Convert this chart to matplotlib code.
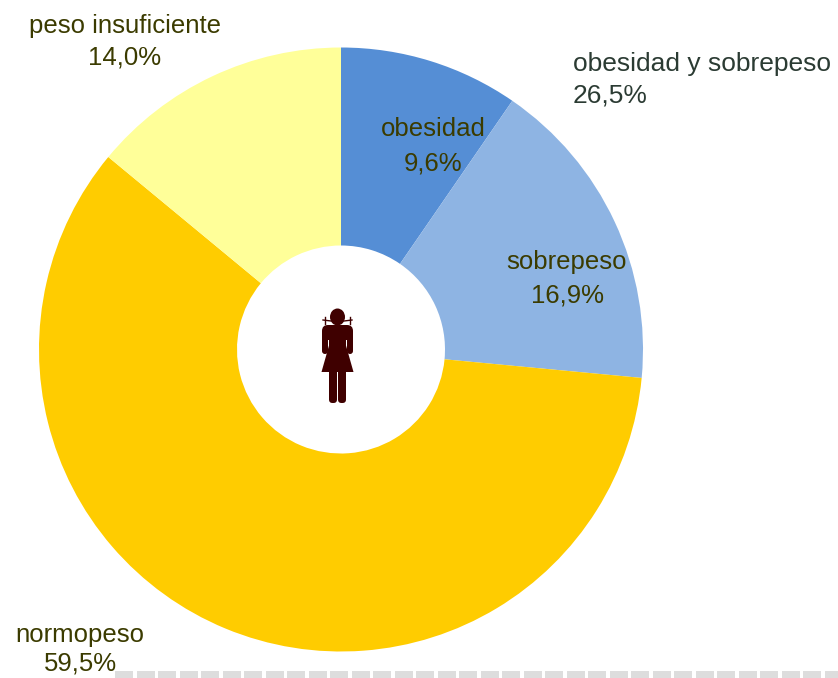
"""Donut chart: peso status of girls, with pictogram in the hole."""
import matplotlib
matplotlib.use("Agg")
import matplotlib.pyplot as plt
import numpy as np
from matplotlib.patches import Ellipse, FancyBboxPatch, Polygon, Rectangle

categories = ["obesidad", "sobrepeso", "normopeso", "peso insuficiente"]
values = [9.6, 16.9, 59.5, 14.0]
value_labels = ["9,6%", "16,9%", "59,5%", "14,0%"]
group_label = "obesidad y sobrepeso"
group_value = "26,5%"

colors = ["#558ED5", "#8EB4E3", "#FFCC00", "#FFFF99"]
text_color = "#3B3B00"
group_color = "#2B3B33"
icon_color = "#3F0000"

W, H = 838, 678
plt.rcParams["font.family"] = ["Liberation Sans", "DejaVu Sans"]

fig = plt.figure(figsize=(W / 100, H / 100), dpi=100, facecolor="white")
ax = fig.add_axes([0, 0, 1, 1])

cx, cy = 341, H - 349.5
R = 302
ax.pie(values, colors=colors, startangle=90, counterclock=False,
       center=(cx, cy), radius=R, frame=True,
       wedgeprops={"width": R - 104, "linewidth": 0})
ax.set_xlim(0, W)
ax.set_ylim(0, H)
ax.set_aspect("equal")
ax.axis("off")


def label(x, y1, y2, name, val):
    # x and the two line centres are picture pixels measured from the top
    ax.text(x, H - y1, name, color=text_color, fontsize=18.5, ha="center", va="center")
    ax.text(x, H - y2, val, color=text_color, fontsize=18.5, ha="center", va="center")


label(433, 129, 163, categories[0], value_labels[0])
label(567, 262, 295, categories[1], value_labels[1])
label(80, 635, 664, categories[2], value_labels[2])
label(125, 26, 57, categories[3], value_labels[3])
ax.text(573, H - 64, group_label, color=group_color, fontsize=19, ha="left", va="center")
ax.text(573, H - 96, group_value, color=group_color, fontsize=19, ha="left", va="center")


# pictogram of a girl, in picture pixels
def box(x0, y0, x1, y1, rad):
    ax.add_patch(FancyBboxPatch((x0, H - y1), x1 - x0, y1 - y0,
                                boxstyle=f"round,pad=0,rounding_size={rad}",
                                fc=icon_color, ec="none"))


ax.add_patch(Ellipse((337.5, H - 317), 15, 17, color=icon_color, lw=0))
box(322, 325, 353, 340, 6)
box(322, 330, 328, 354, 3)
box(347, 330, 353, 354, 3)
box(329, 328, 346, 348, 1)
ax.add_patch(Polygon([(330, H - 342), (345, H - 342), (353.5, H - 372), (321.5, H - 372)],
                     color=icon_color, lw=0))
box(329, 368, 337, 403, 3.5)
box(338, 368, 346, 403, 3.5)
for x0, x1 in ((323, 331), (352, 344)):
    ax.plot([x0, x1], [H - 320, H - 321], color=icon_color, lw=1.0)
    ax.plot([x0 + (x1 - x0) * 0.25] * 2, [H - 317, H - 324], color=icon_color, lw=1.0)

# dashed grey strip along the bottom edge, over the last label
for x0 in np.arange(115, W, 21.5):
    ax.add_patch(Rectangle((x0, 0), 18, 7.5, fc="#DDDDDD", ec="none", zorder=5))

fig.savefig("out.png", dpi=100)
